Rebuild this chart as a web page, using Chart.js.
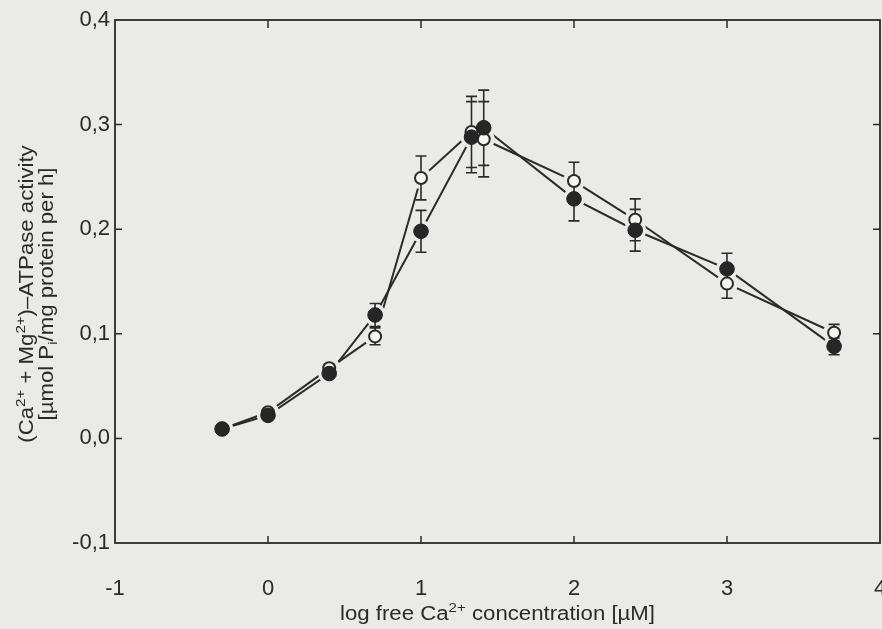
<!DOCTYPE html>
<html><head><meta charset="utf-8">
<script src="https://cdn.jsdelivr.net/npm/chart.js@4/dist/chart.umd.min.js"></script>
<style>
html,body{margin:0;padding:0;background:#eaeae8;}
#wrap{width:882px;height:629px;position:relative;overflow:hidden;}
canvas{display:block;}
</style></head><body>
<div id="wrap"><canvas id="c" width="882" height="629"></canvas></div>
<script>
// ---- data ----
const xValues      = [-0.3, 0.0, 0.4, 0.7, 1.0, 1.33, 1.41, 2.0, 2.4, 3.0, 3.7];
const openValues   = [0.009, 0.025, 0.067, 0.0975, 0.249, 0.293, 0.286, 0.246, 0.209, 0.148, 0.101];
const openErrors   = [0, 0, 0.004, 0.008, 0.021, 0.034, 0.036, 0.018, 0.020, 0.014, 0.008];
const filledValues = [0.009, 0.022, 0.062, 0.118, 0.198, 0.288, 0.297, 0.229, 0.199, 0.162, 0.088];
const filledErrors = [0, 0, 0.004, 0.011, 0.020, 0.034, 0.036, 0.021, 0.020, 0.015, 0.008];
const xTickValues  = [-1, 0, 1, 2, 3, 4];
const xTickLabels  = ['-1', '0', '1', '2', '3', '4'];
const yTickValues  = [-0.1, 0.0, 0.1, 0.2, 0.3, 0.4];
const yTickLabels  = ['-0,1', '0,0', '0,1', '0,2', '0,3', '0,4'];
const xTitle  = [['log free Ca'], ['2+', 'sup'], [' concentration [µM]']];
const yTitle1 = [['(Ca'], ['2+', 'sup'], [' + Mg'], ['2+', 'sup'], [')–ATPase activity']];
const yTitle2 = [['[µmol P'], ['i', 'sub'], ['/mg protein per h]']];

// ---- styles ----
const FONT = '"Liberation Sans", Arial, Helvetica, sans-serif';
const INK = '#2a2a2a';
const BG = '#eaeae8';
const OPEN_FILL = '#f5f5f3';
const FS = 22;       // tick labels
const TFS = 20;      // axis titles
const TSTRETCH = 1.11;

function pts(ys) { return xValues.map((x, i) => ({x: x, y: ys[i]})); }

function drawRich(ctx, segs, x, y, size, stretch) {
  let total = 0;
  const items = segs.map(s => {
    const small = s[1] === 'sup' || s[1] === 'sub';
    const sz = small ? size * 0.68 : size;
    ctx.font = sz + 'px ' + FONT;
    const w = ctx.measureText(s[0]).width;
    total += w;
    return {t: s[0], sz: sz, w: w, dy: s[1] === 'sup' ? -size * 0.42 : (s[1] === 'sub' ? size * 0.22 : 0)};
  });
  ctx.save();
  ctx.translate(x, y);
  ctx.scale(stretch, 1);
  let cx = -total / 2;
  ctx.textAlign = 'left';
  ctx.textBaseline = 'alphabetic';
  items.forEach(it => {
    ctx.font = it.sz + 'px ' + FONT;
    ctx.fillText(it.t, cx, it.dy);
    cx += it.w;
  });
  ctx.restore();
}

const framePlugin = {
  id: 'frame',
  beforeDatasetsDraw(chart) {
    const {ctx, chartArea: a, scales} = chart;
    ctx.save();
    ctx.strokeStyle = INK;
    ctx.lineWidth = 1.8;
    ctx.strokeRect(a.left, a.top, a.right - a.left, a.bottom - a.top);
    ctx.lineWidth = 1.5;
    ctx.beginPath();
    [0, 1, 2, 3].forEach(v => {
      const px = scales.x.getPixelForValue(v);
      ctx.moveTo(px, a.bottom); ctx.lineTo(px, a.bottom - 7);
      ctx.moveTo(px, a.top); ctx.lineTo(px, a.top + 8);
    });
    [0, 0.1, 0.2, 0.3].forEach(v => {
      const py = scales.y.getPixelForValue(v);
      ctx.moveTo(a.left, py); ctx.lineTo(a.left + 7, py);
      ctx.moveTo(a.right, py); ctx.lineTo(a.right - 7, py);
    });
    ctx.stroke();
    ctx.restore();
    chart.$errDone = false;
  },
  beforeDatasetDraw(chart, args) {
    const ds = chart.data.datasets[args.index];
    if (ds.role !== 'marker' || chart.$errDone) return;
    chart.$errDone = true;
    const {ctx, scales} = chart;
    ctx.save();
    ctx.strokeStyle = INK;
    ctx.lineWidth = 1.6;
    ctx.beginPath();
    [[openValues, openErrors], [filledValues, filledErrors]].forEach(([ys, es]) => {
      xValues.forEach((x, i) => {
        if (!es[i]) return;
        const px = scales.x.getPixelForValue(x);
        const y1 = scales.y.getPixelForValue(ys[i] + es[i]);
        const y2 = scales.y.getPixelForValue(ys[i] - es[i]);
        ctx.moveTo(px, y1); ctx.lineTo(px, y2);
        ctx.moveTo(px - 5.5, y1); ctx.lineTo(px + 5.5, y1);
        ctx.moveTo(px - 5.5, y2); ctx.lineTo(px + 5.5, y2);
      });
    });
    ctx.stroke();
    ctx.restore();
  },
  afterDraw(chart) {
    const {ctx, chartArea: a} = chart;
    ctx.save();
    ctx.fillStyle = INK;
    drawRich(ctx, xTitle, (a.left + a.right) / 2, 620, TFS, TSTRETCH);
    ctx.translate(33, 294);
    ctx.rotate(-Math.PI / 2);
    drawRich(ctx, yTitle1, 0, 0, TFS, TSTRETCH);
    drawRich(ctx, yTitle2, 0, 19.5, TFS, TSTRETCH);
    ctx.restore();
  }
};

const lineStyle = {showLine: true, borderColor: INK, borderWidth: 2, pointRadius: 0, tension: 0, fill: false, role: 'line', order: 3};
const haloStyle = {showLine: false, pointRadius: 11, pointBackgroundColor: BG, pointBorderWidth: 0, role: 'halo', order: 2};

new Chart(document.getElementById('c'), {
  type: 'scatter',
  data: {
    datasets: [
      Object.assign({label: 'open line', data: pts(openValues)}, lineStyle),
      Object.assign({label: 'filled line', data: pts(filledValues)}, lineStyle),
      Object.assign({label: 'open halo', data: pts(openValues)}, haloStyle),
      Object.assign({label: 'filled halo', data: pts(filledValues)}, haloStyle),
      {label: 'open', data: pts(openValues), showLine: false, pointRadius: 6, pointBorderWidth: 2,
       pointBorderColor: INK, pointBackgroundColor: OPEN_FILL, role: 'marker', order: 1.2},
      {label: 'filled', data: pts(filledValues), showLine: false, pointRadius: 7.3, pointBorderWidth: 1,
       pointBorderColor: '#222', pointBackgroundColor: '#262626', role: 'marker', order: 1.1}
    ]
  },
  options: {
    responsive: false,
    animation: false,
    events: [],
    layout: {autoPadding: false, padding: {top: 20, right: 2, left: 0, bottom: 0}},
    plugins: {legend: {display: false}, tooltip: {enabled: false}},
    scales: {
      x: {
        type: 'linear', min: -1, max: 4,
        afterBuildTicks: s => { s.ticks = xTickValues.map(v => ({value: v})); },
        ticks: {callback: v => xTickLabels[xTickValues.indexOf(v)], color: INK,
                font: {size: FS, family: FONT}, padding: 33, maxRotation: 0, autoSkip: false},
        grid: {display: false, drawTicks: false},
        border: {display: false},
        afterFit: s => { s.height = 86; s.paddingLeft = 0; s.paddingRight = 0; }
      },
      y: {
        type: 'linear', min: -0.1, max: 0.4,
        afterBuildTicks: s => { s.ticks = yTickValues.map(v => ({value: v})); },
        ticks: {callback: v => yTickLabels[yTickValues.findIndex(t => Math.abs(t - v) < 1e-9)], color: INK,
                font: {size: FS, family: FONT}, padding: 5, autoSkip: false},
        grid: {display: false, drawTicks: false},
        border: {display: false},
        afterFit: s => { s.width = 115; s.paddingTop = 0; s.paddingBottom = 0; }
      }
    }
  },
  plugins: [framePlugin]
});
</script>
</body></html>
